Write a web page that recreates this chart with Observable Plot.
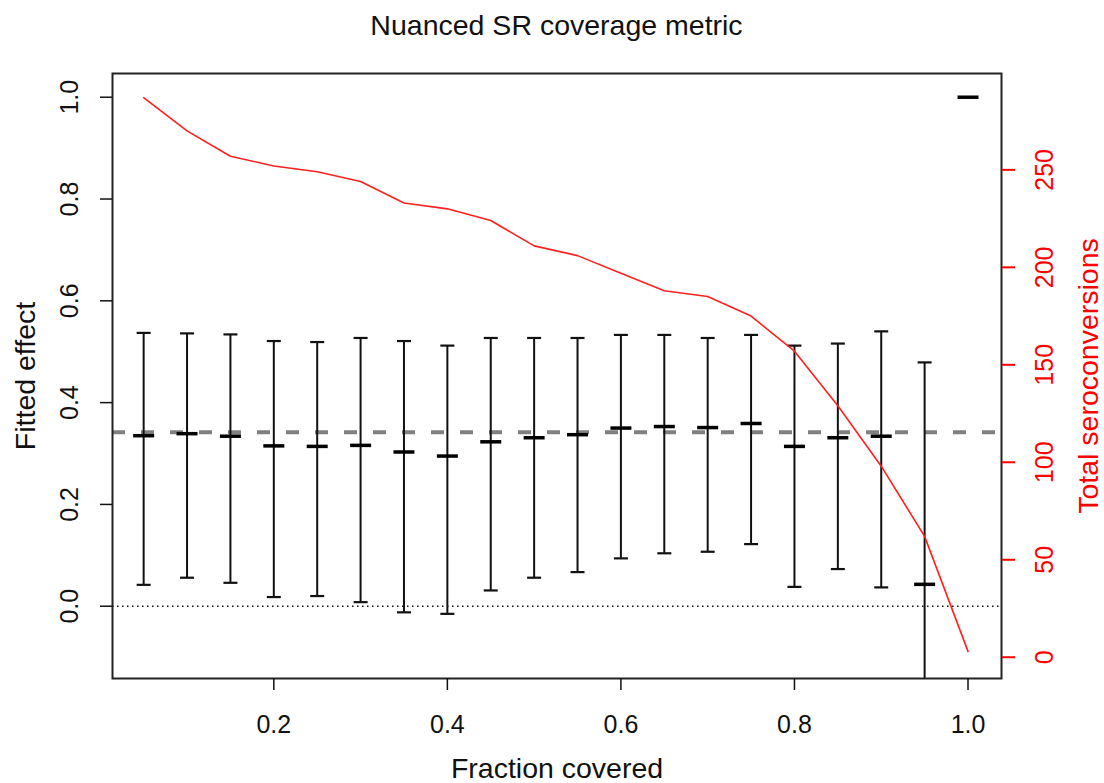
<!DOCTYPE html>
<html><head><meta charset="utf-8">
<script src="https://cdn.jsdelivr.net/npm/d3@7"></script>
<script src="https://cdn.jsdelivr.net/npm/@observablehq/plot@0.6"></script>
<style>
body{margin:0;background:#fff;font-family:"Liberation Sans",Arial,sans-serif;}
#title{height:50px;line-height:50px;font-size:28.5px;color:#111;position:relative;}
#title span{position:absolute;left:556.5px;transform:translateX(-50%);white-space:nowrap;}
</style></head><body>
<div id="title"><span>Nuanced SR coverage metric</span></div>
<div id="chart"></div>
<script>
const fraction = [0.05,0.10,0.15,0.20,0.25,0.30,0.35,0.40,0.45,0.50,0.55,0.60,0.65,0.70,0.75,0.80,0.85,0.90,0.95,1.00];
const effect = [0.335,0.339,0.334,0.315,0.314,0.316,0.303,0.295,0.323,0.331,0.337,0.350,0.353,0.351,0.359,0.314,0.331,0.334,0.043,1.000];
const lower = [0.042,0.056,0.046,0.018,0.020,0.008,-0.012,-0.015,0.031,0.056,0.067,0.094,0.104,0.107,0.122,0.038,0.073,0.037,-0.35,null];
const upper = [0.537,0.536,0.534,0.521,0.519,0.527,0.521,0.512,0.527,0.527,0.527,0.533,0.533,0.527,0.533,0.512,0.516,0.540,0.479,null];
const seroconversions = [287,270,257,252,249,244,233,230,224,211,206,197,188,185,175,157,129,98,62,3];
const overallEffect = 0.342;
const xTicks = [0.2,0.4,0.6,0.8,1.0];
const yTicks = [0.0,0.2,0.4,0.6,0.8,1.0];
const rightTicks = [0,50,100,150,200,250];

// secondary (right) axis expressed in left-axis units
const toLeft = v => -0.1002 + 0.00383 * v;

const rows = fraction.map((f,i)=>({f, mid: effect[i], lo: lower[i], hi: upper[i]}));
const bars = rows.filter(d => d.lo != null && d.hi != null);
const sero = fraction.map((f,i)=>({f, n: seroconversions[i]}));

const hline = {draw(ctx, size){ const r = Math.sqrt(size/Math.PI); ctx.moveTo(-r,0); ctx.lineTo(r,0); }};
const fmt1 = d3.format(".1f");
const font = '"Liberation Sans", Arial, sans-serif';

const chart = Plot.plot({
  width: 1104, height: 733,
  marginTop: 23, marginBottom: 105, marginLeft: 112, marginRight: 103,
  style: {fontFamily: font, fontSize: "25px", background: "white", color: "#111", overflow: "visible"},
  x: {domain: [0.0141, 1.0386], axis: null},
  y: {domain: [-0.142, 1.0466], axis: null},
  marks: [
    Plot.ruleY([0], {stroke: "#111", strokeWidth: 1.5, strokeDasharray: "1.5,3.5"}),
    Plot.ruleY([overallEffect], {stroke: "#808080", strokeWidth: 4, strokeDasharray: "13,16"}),
    Plot.ruleX(bars, {x: "f", y1: "lo", y2: "hi", stroke: "#111", strokeWidth: 2, clip: true}),
    Plot.dot(bars, {x: "f", y: "hi", symbol: hline, r: 7, stroke: "#111", strokeWidth: 2.2, fill: "none", clip: true}),
    Plot.dot(bars, {x: "f", y: "lo", symbol: hline, r: 7, stroke: "#111", strokeWidth: 2.2, fill: "none", clip: true}),
    Plot.dot(rows, {x: "f", y: "mid", symbol: hline, r: 10.5, stroke: "#000", strokeWidth: 3.5, fill: "none", clip: true}),
    Plot.line(sero, {x: "f", y: d => toLeft(d.n), stroke: "#ff2020", strokeWidth: 1.6}),
    Plot.frame({stroke: "#222", strokeWidth: 2}),
    Plot.axisX(xTicks, {tickSize: 12, tickPadding: 25, tickFormat: fmt1, strokeWidth: 1.5, label: null}),
    Plot.axisY(yTicks, {anchor: "left", tickSize: 12, tickFormat: () => "", strokeWidth: 1.5, label: null}),
    Plot.text(yTicks, {y: d => d, text: d => fmt1(d), frameAnchor: "left", dx: -43, rotate: -90, lineAnchor: "middle", textAnchor: "middle"}),
    Plot.axisY(rightTicks.map(toLeft), {anchor: "right", tickSize: 13, stroke: "red", strokeWidth: 2, tickFormat: () => "", label: null}),
    Plot.text(rightTicks, {y: d => toLeft(d), text: d => String(d), frameAnchor: "right", dx: 43, rotate: -90, lineAnchor: "middle", textAnchor: "middle", fill: "red"}),
    Plot.text(["Fraction covered"], {text: d => d, frameAnchor: "bottom", dy: 99, lineAnchor: "bottom", fontSize: 28.5}),
    Plot.text(["Fitted effect"], {text: d => d, frameAnchor: "left", dx: -87, rotate: -90, lineAnchor: "middle", textAnchor: "middle", fontSize: 28.5}),
    Plot.text(["Total seroconversions"], {text: d => d, frameAnchor: "right", dx: 87, rotate: -90, lineAnchor: "middle", textAnchor: "middle", fontSize: 28.5, fill: "red"})
  ]
});
document.getElementById("chart").appendChild(chart);
</script>
</body></html>
